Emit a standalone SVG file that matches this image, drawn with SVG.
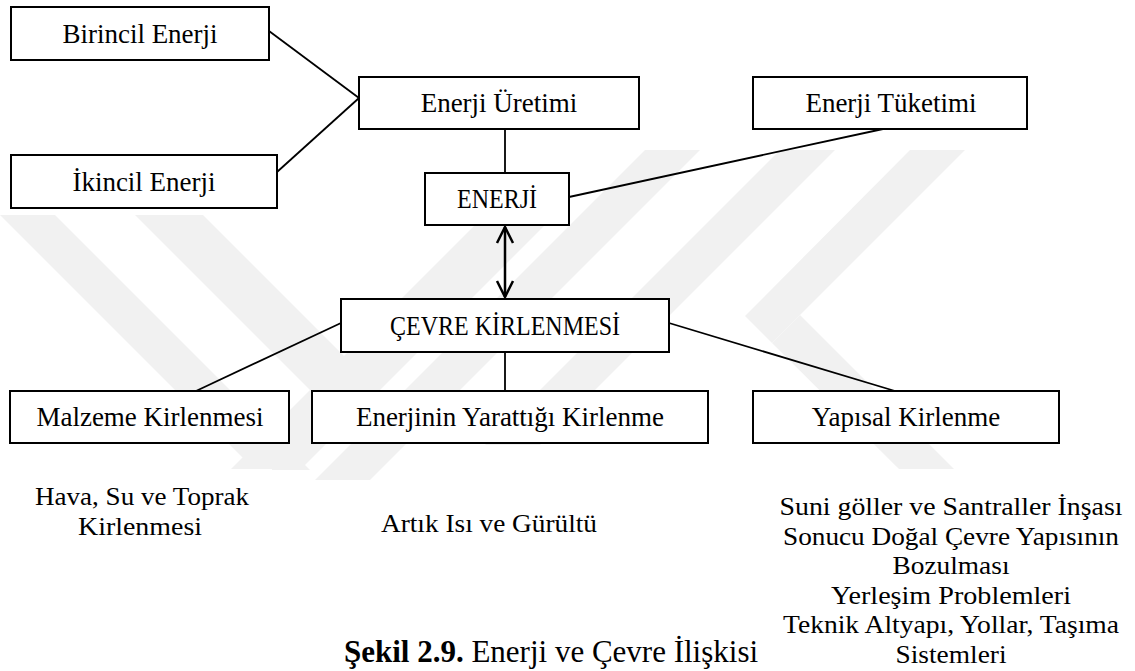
<svg xmlns="http://www.w3.org/2000/svg" width="1135" height="671" viewBox="0 0 1135 671">
<style>
.box{fill:#fff;stroke:#000;stroke-width:2}
.t{font-family:"Liberation Serif",serif;font-size:27px;fill:#000;text-anchor:middle}
.n{font-family:"Liberation Serif",serif;font-size:26px;fill:#000;text-anchor:middle}
.c{stroke:#000;stroke-width:1.8;fill:none}
.wm{fill:#f1f1f1}
</style>
<defs>
<marker id="ah" viewBox="0 0 20 20" refX="18" refY="10" markerWidth="20" markerHeight="20" markerUnits="userSpaceOnUse" orient="auto-start-reverse">
<path d="M2,2 L18,10 L2,18" fill="none" stroke="#000" stroke-width="2.5"/>
</marker>
</defs>
<rect width="1135" height="671" fill="#fff"/>
<g id="watermark">
<polygon class="wm" points="0,215 55,215 310,470 255,470"/>
<polygon class="wm" points="135,215 203,215 360,372 326,406"/>
<polygon class="wm" points="485,215 555,215 300,470 230,470"/>
<polygon class="wm" points="645,150 700,150 370,480 315,480"/>
<polygon class="wm" points="780,150 835,150 540,445 485,445"/>
<polygon class="wm" points="910,150 965,150 800,315 772,343 745,316"/>
<polygon class="wm" points="772,343 800,315 955,470 900,470"/>
<rect x="0" y="469" width="272" height="110" fill="#fff"/>
<rect x="345" y="495" width="300" height="70" fill="#fff"/>
<rect x="737" y="469" width="398" height="202" fill="#fff"/>
</g>
<g id="connectors">
<line class="c" x1="269" y1="31" x2="359" y2="98"/>
<line class="c" x1="277" y1="172" x2="359" y2="98"/>
<line class="c" x1="505" y1="129" x2="505" y2="173"/>
<line class="c" x1="569" y1="197" x2="883" y2="129"/>
<line class="c" x1="341" y1="323" x2="196" y2="391"/>
<line class="c" x1="505" y1="352" x2="505" y2="391"/>
<line class="c" x1="669" y1="323" x2="895" y2="391"/>
<line x1="505" y1="227" x2="505" y2="297" stroke="#000" stroke-width="2.5" marker-start="url(#ah)" marker-end="url(#ah)"/>
</g>
<g id="n-birincil"><rect class="box" x="11" y="7" width="258" height="53"/><text class="t" x="140" y="43">Birincil Enerji</text></g>
<g id="n-ikincil"><rect class="box" x="11" y="155" width="266" height="53"/><text class="t" x="144" y="191">İkincil Enerji</text></g>
<g id="n-uretim"><rect class="box" x="359" y="77" width="280" height="52"/><text class="t" x="499" y="112">Enerji Üretimi</text></g>
<g id="n-tuketim"><rect class="box" x="753" y="77" width="274" height="52"/><text class="t" x="891" y="112">Enerji Tüketimi</text></g>
<g id="n-enerji"><rect class="box" x="425" y="173" width="144" height="52"/><text class="t" x="497" y="208" textLength="80" lengthAdjust="spacingAndGlyphs">ENERJİ</text></g>
<g id="n-cevre"><rect class="box" x="341" y="299" width="328" height="53"/><text class="t" x="505" y="335" textLength="230" lengthAdjust="spacingAndGlyphs">ÇEVRE KİRLENMESİ</text></g>
<g id="n-malzeme"><rect class="box" x="10" y="391" width="279" height="52"/><text class="t" x="150" y="426">Malzeme Kirlenmesi</text></g>
<g id="n-enerjinin"><rect class="box" x="312" y="391" width="396" height="52"/><text class="t" x="510" y="426">Enerjinin Yarattığı Kirlenme</text></g>
<g id="n-yapisal"><rect class="box" x="753" y="391" width="306" height="52"/><text class="t" x="906" y="426">Yapısal Kirlenme</text></g>
<g id="notes">
<text class="n" x="142" y="505" textLength="214" lengthAdjust="spacingAndGlyphs">Hava, Su ve Toprak</text>
<text class="n" x="140" y="535" textLength="124" lengthAdjust="spacingAndGlyphs">Kirlenmesi</text>
<text class="n" x="489" y="532" textLength="216" lengthAdjust="spacingAndGlyphs">Artık Isı ve Gürültü</text>
<text class="n" x="951" y="515" textLength="343" lengthAdjust="spacingAndGlyphs">Suni göller ve Santraller İnşası</text>
<text class="n" x="951" y="544.5" textLength="336" lengthAdjust="spacingAndGlyphs">Sonucu Doğal Çevre Yapısının</text>
<text class="n" x="951" y="574" textLength="117" lengthAdjust="spacingAndGlyphs">Bozulması</text>
<text class="n" x="951" y="603.5" textLength="240" lengthAdjust="spacingAndGlyphs">Yerleşim Problemleri</text>
<text class="n" x="951" y="633" textLength="336" lengthAdjust="spacingAndGlyphs">Teknik Altyapı, Yollar, Taşıma</text>
<text class="n" x="951" y="662.5" textLength="111" lengthAdjust="spacingAndGlyphs">Sistemleri</text>
</g>
<text id="caption" x="551" y="662" style="font-family:'Liberation Serif',serif;font-size:31px;text-anchor:middle"><tspan font-weight="bold">Şekil 2.9.</tspan> Enerji ve Çevre İlişkisi</text>
</svg>
